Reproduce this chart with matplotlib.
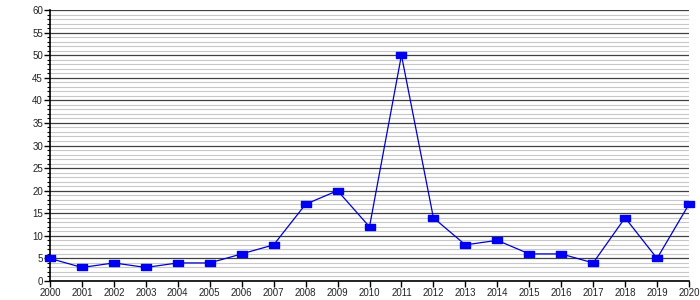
import numpy as np
import matplotlib
matplotlib.use("Agg")
import matplotlib.pyplot as plt
from matplotlib.ticker import MultipleLocator

# Daten
years = list(range(2000, 2021))
values = [5, 3, 4, 3, 4, 4, 6, 8, 17, 20, 12, 50, 14, 8, 9, 6, 6, 4, 14, 5, 17]
y_ticks = list(range(0, 61, 5))

plt.rcParams['font.family'] = ['Liberation Sans', 'DejaVu Sans']

fig = plt.figure(figsize=(7, 3), dpi=100)
ax = fig.add_axes([50 / 700, 19 / 300, 639 / 700, 271 / 300])

# Gitter: dünn grau jede Einheit, dunkel alle 5
ax.yaxis.set_minor_locator(MultipleLocator(1))
ax.set_yticks(y_ticks)
ax.grid(which='minor', axis='y', color='#c8c8c8', linewidth=0.8)
ax.grid(which='major', axis='y', color='#404040', linewidth=0.9)
ax.set_axisbelow(True)

# flaches Rechteck als Marker
rect = [(-1, -0.6), (1, -0.6), (1, 0.6), (-1, 0.6), (-1, -0.6)]
ax.plot(years, values, color='#0000cc', linewidth=0.9, marker=rect,
        markersize=7.5, markerfacecolor='#0000ee', markeredgecolor='#0000ee',
        clip_on=False, zorder=3)

ax.set_xlim(2000, 2020)
ax.set_ylim(0, 60)
ax.set_xticks(years)
ax.set_xticklabels([str(y) for y in years])

for side in ['top', 'right']:
    ax.spines[side].set_visible(False)
ax.spines['left'].set_color('black')
ax.spines['bottom'].set_color('black')
ax.spines['left'].set_linewidth(1.2)
ax.spines['bottom'].set_linewidth(1.2)

ax.tick_params(axis='both', which='major', labelsize=7, length=4, width=1,
               pad=1, colors='black', labelcolor='#222222')
ax.tick_params(axis='y', which='minor', length=2, width=0.8)

fig.savefig('out.png', dpi=100)
